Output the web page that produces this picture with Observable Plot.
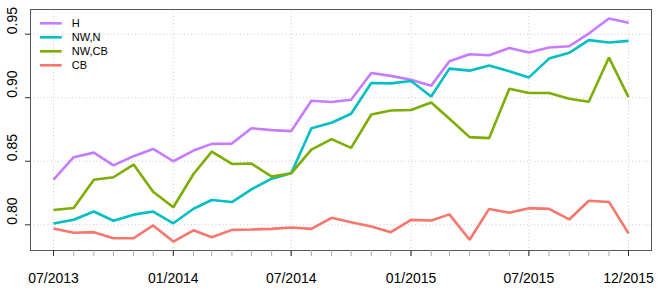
<!DOCTYPE html>
<html>
<head>
<meta charset="utf-8">
<script src="https://cdn.jsdelivr.net/npm/d3@7"></script>
<script src="https://cdn.jsdelivr.net/npm/@observablehq/plot@0.6"></script>
<style>
  html, body { margin: 0; padding: 0; background: #fff; }
  #wrap { position: relative; width: 665px; height: 297px; font-family: "Liberation Sans", Arial, Helvetica, sans-serif; }
  #legend { position: absolute; left: 0; top: 0; }
</style>
</head>
<body>
<div id="wrap"></div>
<script>
const months = ["2013-07","2013-08","2013-09","2013-10","2013-11","2013-12",
  "2014-01","2014-02","2014-03","2014-04","2014-05","2014-06",
  "2014-07","2014-08","2014-09","2014-10","2014-11","2014-12",
  "2015-01","2015-02","2015-03","2015-04","2015-05","2015-06",
  "2015-07","2015-08","2015-09","2015-10","2015-11","2015-12"];

const seriesNames = ["H", "NW,N", "NW,CB", "CB"];
const seriesColors = ["#C77CFF", "#00BFC4", "#7CAE00", "#F8766D"];

const H    = [0.8355,0.8532,0.8568,0.8468,0.8540,0.8597,0.8500,0.8584,0.8637,0.8639,
              0.8760,0.8745,0.8737,0.8976,0.8966,0.8984,0.9195,0.9172,0.9142,0.9095,
              0.9287,0.9342,0.9334,0.9392,0.9355,0.9395,0.9405,0.9505,0.9624,0.9590];
const NWN  = [0.8010,0.8040,0.8105,0.8032,0.8080,0.8104,0.8012,0.8126,0.8195,0.8179,
              0.8279,0.8363,0.8405,0.8760,0.8803,0.8874,0.9116,0.9113,0.9132,0.9010,
              0.9229,0.9213,0.9253,0.9208,0.9160,0.9308,0.9353,0.9453,0.9434,0.9447];
const NWCB = [0.8116,0.8132,0.8355,0.8374,0.8474,0.8260,0.8138,0.8400,0.8576,0.8479,
              0.8482,0.8379,0.8405,0.8592,0.8674,0.8605,0.8868,0.8900,0.8903,0.8963,
              0.8834,0.8690,0.8682,0.9071,0.9037,0.9037,0.8992,0.8968,0.9316,0.9005];
const CB   = [0.7971,0.7937,0.7942,0.7894,0.7894,0.7995,0.7868,0.7957,0.7902,0.7960,
              0.7963,0.7968,0.7979,0.7968,0.8055,0.8020,0.7987,0.7942,0.8039,0.8034,
              0.8082,0.7882,0.8125,0.8095,0.8131,0.8125,0.8042,0.8189,0.8180,0.7933];

const tickMonths = ["2013-07","2014-01","2014-07","2015-01","2015-07","2015-12"];
const tickLabels = ["07/2013","01/2014","07/2014","01/2015","07/2015","12/2015"];
const yTicks = [0.80, 0.85, 0.90, 0.95];

const parse = d3.utcParse("%Y-%m");
const dates = months.map(parse);
const tickDates = tickMonths.map(parse);
const labelOf = new Map(tickDates.map((d, i) => [+d, tickLabels[i]]));

const allSeries = [H, NWN, NWCB, CB];
const data = [];
seriesNames.forEach((name, s) => {
  allSeries[s].forEach((v, i) => data.push({series: name, date: dates[i], value: v}));
});

// R-style 4% padding of the data range
const t0 = +dates[0], t1 = +dates[dates.length - 1];
const tp = (t1 - t0) * 0.04;
const allVals = allSeries.flat();
const vmin = d3.min(allVals), vmax = d3.max(allVals);
const vp = (vmax - vmin) * 0.04;

const chart = Plot.plot({
  width: 665,
  height: 297,
  marginLeft: 30,
  marginRight: 14,
  marginTop: 9,
  marginBottom: 47,
  style: {fontFamily: '"Liberation Sans", Arial, Helvetica, sans-serif', fontSize: "14px", background: "#fff"},
  x: {type: "utc", domain: [new Date(t0 - tp), new Date(t1 + tp)], label: null},
  y: {domain: [vmin - vp, vmax + vp], label: null},
  color: {domain: seriesNames, range: seriesColors},
  marks: [
    Plot.ruleX(tickDates, {stroke: "#c8c8c8", strokeDasharray: "1,2.5", strokeWidth: 1}),
    Plot.ruleY(yTicks, {stroke: "#c8c8c8", strokeDasharray: "1,2.5", strokeWidth: 1}),
    Plot.line(data, {x: "date", y: "value", z: "series", stroke: "series", strokeWidth: 2.6, strokeLinejoin: "miter", strokeLinecap: "butt"}),
    Plot.frame({stroke: "#555", strokeWidth: 1}),
    Plot.axisX({ticks: dates, tickSize: 6, stroke: "#aaa", tickFormat: () => ""}),
    Plot.axisX({ticks: tickDates, tickSize: 6, stroke: "#333", tickPadding: 17, fontSize: 14, fill: "#000",
                tickFormat: d => labelOf.get(+d)}),
    Plot.axisY({ticks: yTicks, tickSize: 5, stroke: "#333", tickFormat: () => ""}),
    Plot.text(yTicks, {y: d => d, text: d => d.toFixed(2), frameAnchor: "left", dx: -17.5, rotate: -90, fontSize: 14, fill: "#000"})
  ]
});

const wrap = document.getElementById("wrap");
wrap.appendChild(chart);

// Legend overlay (inside top-left of the plot box)
const leg = d3.select(wrap).append("svg")
  .attr("id", "legend").attr("width", 140).attr("height", 80)
  .style("font-family", '"Liberation Sans", Arial, Helvetica, sans-serif');
seriesNames.forEach((name, i) => {
  const y = 23.3 + i * 14;
  leg.append("line").attr("x1", 40).attr("x2", 61.7).attr("y1", y).attr("y2", y)
    .attr("stroke", seriesColors[i]).attr("stroke-width", 2.6);
  leg.append("text").attr("x", 71.7).attr("y", y).attr("dy", "0.36em")
    .attr("font-size", 11).attr("fill", "#000").text(name);
});
</script>
</body>
</html>
